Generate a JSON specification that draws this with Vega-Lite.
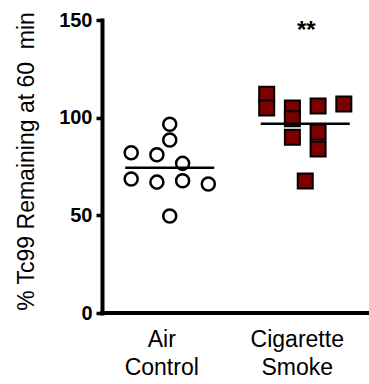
{
  "$schema": "https://vega.github.io/schema/vega-lite/v6.json",
  "width": 267,
  "height": 293,
  "autosize": "none",
  "padding": {"left": 102, "top": 20, "right": 0, "bottom": 71},
  "config": {
    "view": {"stroke": null},
    "font": "Liberation Sans",
    "axis": {"grid": false},
    "axisY": {
      "domainWidth": 4, "domainColor": "black", "domainCap": "square",
      "tickColor": "black", "tickWidth": 3.5, "tickSize": 6,
      "labelFontWeight": "bold", "labelFontSize": 20, "labelColor": "black", "labelPadding": 4,
      "titleFontSize": 23, "titleFontWeight": "normal", "titleColor": "black",
      "titleX": -69, "titleY": 141, "titleBaseline": "alphabetic", "titleAlign": "center"
    },
    "axisX": {
      "domain": false,
      "ticks": false, "tickSize": 0,
      "labelFontSize": 23, "labelColor": "black", "labelPadding": 15, "labelAngle": 0,
      "labelLineHeight": 28, "labelOffset": -8
    }
  },
  "datasets": {
    "points": [
      {"group": "Air Control", "col": -3, "value": 82},
      {"group": "Air Control", "col": -3, "value": 68.6},
      {"group": "Air Control", "col": -1, "value": 81},
      {"group": "Air Control", "col": -1, "value": 67},
      {"group": "Air Control", "col": 0, "value": 96.6},
      {"group": "Air Control", "col": 0, "value": 88.6},
      {"group": "Air Control", "col": 0, "value": 49.7},
      {"group": "Air Control", "col": 1, "value": 76.6},
      {"group": "Air Control", "col": 1, "value": 67.7},
      {"group": "Air Control", "col": 3, "value": 66},
      {"group": "Cigarette Smoke", "col": -3, "value": 112},
      {"group": "Cigarette Smoke", "col": -3, "value": 105},
      {"group": "Cigarette Smoke", "col": -1, "value": 105},
      {"group": "Cigarette Smoke", "col": -1, "value": 99.5},
      {"group": "Cigarette Smoke", "col": -1, "value": 90},
      {"group": "Cigarette Smoke", "col": 0, "value": 67.6},
      {"group": "Cigarette Smoke", "col": 1, "value": 106},
      {"group": "Cigarette Smoke", "col": 1, "value": 92.5},
      {"group": "Cigarette Smoke", "col": 1, "value": 84},
      {"group": "Cigarette Smoke", "col": 3, "value": 107}
    ],
    "stars": [
      {"group": "Cigarette Smoke", "label": "**", "value": 140.6}
    ]
  },
  "layer": [
    {
      "data": {"name": "stars"},
      "mark": {"type": "rule", "strokeWidth": 4, "color": "black", "strokeCap": "square"},
      "encoding": {
        "y": {"datum": 0, "type": "quantitative"}
      }
    },
    {
      "data": {"name": "points"},
      "mark": {"type": "point", "stroke": "black", "opacity": 1, "fillOpacity": 1},
      "encoding": {
        "x": {
          "field": "group", "type": "nominal", "title": null,
          "sort": ["Air Control", "Cigarette Smoke"],
          "scale": {"type": "band", "range": [0, 271], "paddingInner": 0, "paddingOuter": 0},
          "axis": {"labelExpr": "split(datum.label, ' ')", "labelOffset": -8}
        },
        "xOffset": {
          "field": "col", "type": "quantitative",
          "scale": {"domain": [-5.27, 5.27], "range": [0, 135.5]}
        },
        "y": {
          "field": "value", "type": "quantitative",
          "title": "% Tc99 Remaining at 60\u00a0 min",
          "scale": {"domain": [0, 150], "nice": false},
          "axis": {"values": [0, 50, 100, 150]}
        },
        "shape": {"field": "group", "type": "nominal", "legend": null,
          "scale": {"domain": ["Air Control", "Cigarette Smoke"], "range": ["circle", "square"]}},
        "fill": {"field": "group", "type": "nominal", "legend": null,
          "scale": {"domain": ["Air Control", "Cigarette Smoke"], "range": ["white", "#7d0000"]}},
        "size": {"field": "group", "type": "nominal", "legend": null,
          "scale": {"domain": ["Air Control", "Cigarette Smoke"], "range": [170, 225]}},
        "strokeWidth": {"field": "group", "type": "nominal", "legend": null,
          "scale": {"domain": ["Air Control", "Cigarette Smoke"], "range": [2.5, 2]}}
      }
    },
    {
      "data": {"name": "points"},
      "mark": {"type": "tick", "size": 89, "thickness": 2.5, "color": "black", "opacity": 1},
      "encoding": {
        "x": {"field": "group", "type": "nominal", "title": null, "sort": ["Air Control", "Cigarette Smoke"],
          "axis": {"labelExpr": "split(datum.label, ' ')", "labelOffset": -8}},
        "y": {"field": "value", "type": "quantitative", "aggregate": "mean",
          "title": "% Tc99 Remaining at 60\u00a0 min",
          "axis": {"values": [0, 50, 100, 150]}}
      }
    },
    {
      "data": {"name": "stars"},
      "mark": {"type": "text", "fontSize": 24, "fontWeight": "bold", "baseline": "alphabetic", "align": "center", "dx": 1, "color": "black"},
      "encoding": {
        "x": {"field": "group", "type": "nominal", "title": null, "sort": ["Air Control", "Cigarette Smoke"],
          "axis": {"labelExpr": "split(datum.label, ' ')", "labelOffset": -8}},
        "y": {"field": "value", "type": "quantitative",
          "title": "% Tc99 Remaining at 60\u00a0 min",
          "axis": {"values": [0, 50, 100, 150]}},
        "text": {"field": "label"}
      }
    }
  ]
}
